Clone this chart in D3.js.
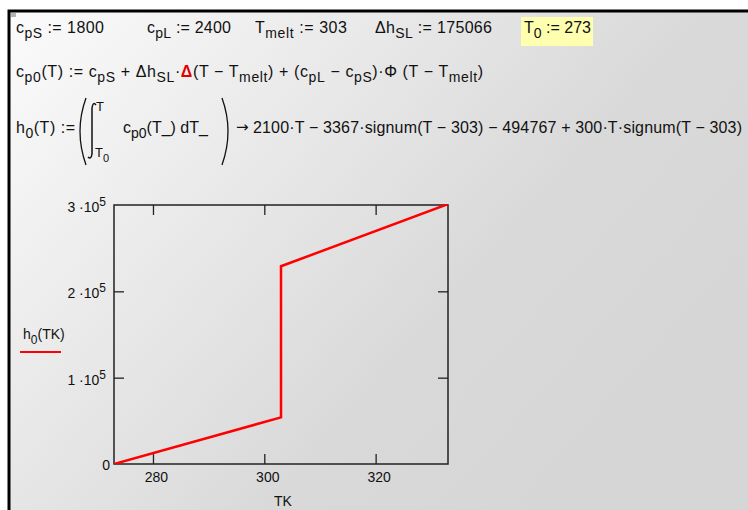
<!DOCTYPE html>
<html>
<head>
<meta charset="utf-8">
<script src="https://cdn.jsdelivr.net/npm/d3@7"></script>
<style>
    body { margin: 0; background: #fff; }
    svg text { font-family: "Liberation Sans", Arial, sans-serif; fill: #111; }
</style>
</head>
<body>
<div id="root"></div>
<script>
// h0(T) evaluated at the corners of the piecewise line
const tk = [273, 303, 303, 333];
const h0 = [0, 54000, 229066, 301066];
const xTicks = [280, 300, 320];
const yTicks = [0, 100000, 200000, 300000];
const yTickLabels = ['0', '1', '2', '3'];

const width = 748;
const height = 510;

const svg = d3.select('#root')
    .append('svg')
    .attr('width', width)
    .attr('height', height);

const defs = svg.append('defs');
const grad = defs.append('linearGradient')
    .attr('id', 'bg')
    .attr('x1', 0).attr('y1', 0)
    .attr('x2', 1).attr('y2', 0.6);
grad.append('stop').attr('offset', 0).attr('stop-color', '#fbfbfb');
grad.append('stop').attr('offset', 0.7).attr('stop-color', '#d9d9d9');
grad.append('stop').attr('offset', 1).attr('stop-color', '#d6d6d6');

svg.append('rect')
    .attr('x', 9).attr('y', 11)
    .attr('width', width - 9).attr('height', height - 11)
    .attr('fill', 'url(#bg)');

svg.append('path')
    .attr('d', `M9,${height} V11 H${width}`)
    .attr('fill', 'none')
    .attr('stroke', '#000')
    .attr('stroke-width', 3);

svg.append('rect')
    .attr('x', 11).attr('y', 13)
    .attr('width', 5).attr('height', 4)
    .attr('fill', '#b4b4b4');

// math text helper: parts are [text, kind] where kind is 'sub' or 'red'
function mathText(x, y, parts, size = 16, len = null) {
    const t = svg.append('text')
        .attr('x', x)
        .attr('y', y)
        .style('font-size', `${size}px`);
    if (len) t.attr('textLength', len).attr('lengthAdjust', 'spacing');
    let shift = 0;
    parts.forEach(p => {
        const [txt, kind] = Array.isArray(p) ? p : [p, null];
        const want = kind === 'sub' ? 5 : 0;
        const s = t.append('tspan')
            .attr('dy', want - shift)
            .text(txt);
        if (kind === 'sub') s.style('font-size', `${size - 2}px`);
        if (kind === 'red') s.style('fill', '#e00000').style('font-weight', 'bold');
        shift = want;
    });
    return t;
}

// row 1
svg.append('rect')
    .attr('x', 521).attr('y', 17)
    .attr('width', 72).attr('height', 29)
    .attr('fill', '#ffffb0');
mathText(16, 33, ['c', ['pS', 'sub'], ' := 1800'], 16, 88);
mathText(147, 33, ['c', ['pL', 'sub'], ' := 2400'], 16, 84);
mathText(255, 33, ['T', ['melt', 'sub'], ' := 303'], 16, 92);
mathText(375, 33, ['\u0394h', ['SL', 'sub'], ' := 175066'], 16, 117);
mathText(524, 33, ['T', ['0', 'sub'], ' := 273'], 16, 67);

// row 2
mathText(16, 77, [
    'c', ['p0', 'sub'], '(T) := c', ['pS', 'sub'], ' + \u0394h', ['SL', 'sub'], '\u00b7',
    ['\u0394', 'red'], '(T \u2212 T', ['melt', 'sub'], ') + (c', ['pL', 'sub'], ' \u2212 c', ['pS', 'sub'],
    ')\u00b7\u03a6 (T \u2212 T', ['melt', 'sub'], ')',
], 16, 467);

// row 3
mathText(16, 133, ['h', ['0', 'sub'], '(T) :='], 16, 59);
svg.append('path')
    .attr('d', 'M86,98 Q74,131 86,165')
    .attr('fill', 'none').attr('stroke', '#111').attr('stroke-width', 1.3);
svg.append('path')
    .attr('d', 'M222,98 Q234,131 222,165')
    .attr('fill', 'none').attr('stroke', '#111').attr('stroke-width', 1.3);
svg.append('path')
    .attr('d', 'M96,105 Q93,101 92,108 L92,154 Q91,160 88,157')
    .attr('fill', 'none').attr('stroke', '#111').attr('stroke-width', 1.5);
mathText(96, 111, ['T'], 13);
mathText(95, 157, ['T', ['0', 'sub']], 13);
mathText(123, 133, ['c', ['p0', 'sub'], '(T_) dT_']);
svg.append('text')
    .attr('x', 236)
    .attr('y', 132)
    .style('font-family', '"DejaVu Sans", sans-serif')
    .style('font-size', '15px')
    .text('\u2192');
svg.append('text')
    .attr('x', 253)
    .attr('y', 133)
    .attr('textLength', 489)
    .attr('lengthAdjust', 'spacing')
    .style('font-size', '16px')
    .text('2100\u00b7T \u2212 3367\u00b7signum(T \u2212 303) \u2212 494767 + 300\u00b7T\u00b7signum(T \u2212 303)');

// chart
const plot = { left: 114, right: 448, top: 205, bottom: 464 };

const x = d3.scaleLinear()
    .domain([273, 333])
    .range([plot.left, plot.right]);

const y = d3.scaleLinear()
    .domain([0, 300000])
    .range([plot.bottom, plot.top]);

defs.append('clipPath')
    .attr('id', 'plotclip')
    .append('rect')
    .attr('x', plot.left).attr('y', plot.top - 1)
    .attr('width', plot.right - plot.left + 1)
    .attr('height', plot.bottom - plot.top + 1);

const tickLen = 10;
const axisStyle = g => {
    g.select('.domain').remove();
    g.selectAll('.tick line').attr('stroke', '#222').attr('stroke-width', 1.3);
    g.selectAll('.tick text').remove();
};

svg.append('g')
    .attr('transform', `translate(0,${plot.bottom})`)
    .call(d3.axisBottom(x).tickValues(xTicks).tickSizeInner(-tickLen).tickSizeOuter(0))
    .call(axisStyle);
svg.append('g')
    .attr('transform', `translate(0,${plot.top})`)
    .call(d3.axisTop(x).tickValues(xTicks).tickSizeInner(-tickLen).tickSizeOuter(0))
    .call(axisStyle);
svg.append('g')
    .attr('transform', `translate(${plot.left},0)`)
    .call(d3.axisLeft(y).tickValues(yTicks.slice(1, 3)).tickSizeInner(-tickLen).tickSizeOuter(0))
    .call(axisStyle);
svg.append('g')
    .attr('transform', `translate(${plot.right},0)`)
    .call(d3.axisRight(y).tickValues(yTicks.slice(1, 3)).tickSizeInner(-tickLen).tickSizeOuter(0))
    .call(axisStyle);

svg.append('rect')
    .attr('x', plot.left).attr('y', plot.top)
    .attr('width', plot.right - plot.left)
    .attr('height', plot.bottom - plot.top)
    .attr('fill', 'none')
    .attr('stroke', '#222')
    .attr('stroke-width', 1.5);

// tick labels
xTicks.forEach(v => {
    svg.append('text')
        .attr('x', x(v) + 3.5)
        .attr('y', plot.bottom + 18)
        .attr('text-anchor', 'middle')
        .style('font-size', '14px')
        .text(v);
});

yTicks.forEach((v, k) => {
    if (v === 0) {
        svg.append('text')
            .attr('x', plot.left - 4)
            .attr('y', y(v) + 6)
            .attr('text-anchor', 'end')
            .style('font-size', '14px')
            .text('0');
        return;
    }
    const t = svg.append('text')
        .attr('x', plot.left - 8)
        .attr('y', y(v) + 7)
        .attr('text-anchor', 'end')
        .style('font-size', '14px');
    t.append('tspan').text(`${yTickLabels[k]} \u00b710`);
    t.append('tspan').attr('dy', -6).style('font-size', '12px').text('5');
});

svg.append('text')
    .attr('x', (plot.left + plot.right) / 2 + 2)
    .attr('y', 506)
    .attr('text-anchor', 'middle')
    .style('font-size', '14px')
    .text('TK');

// legend
const lg = svg.append('text')
    .attr('x', 23)
    .attr('y', 339)
    .style('font-size', '14px');
lg.append('tspan').text('h');
lg.append('tspan').attr('dy', 5).style('font-size', '12px').text('0');
lg.append('tspan').attr('dy', -5).text('(TK)');
svg.append('line')
    .attr('x1', 20).attr('x2', 61)
    .attr('y1', 352).attr('y2', 352)
    .attr('stroke', '#ff0000')
    .attr('stroke-width', 2);

const line = d3.line()
    .x((d, k) => x(tk[k]))
    .y(d => y(d));

svg.append('path')
    .datum(h0)
    .attr('clip-path', 'url(#plotclip)')
    .attr('d', line)
    .attr('fill', 'none')
    .attr('stroke', '#ff0000')
    .attr('stroke-width', 2.5);
</script>
</body>
</html>
